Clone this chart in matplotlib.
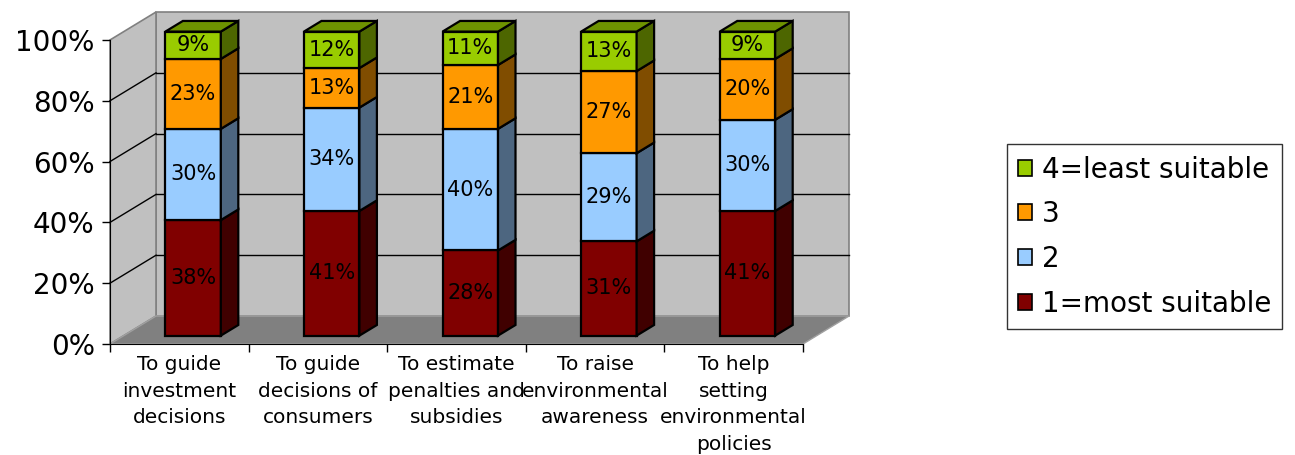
import matplotlib.pyplot as plt
import numpy as np
from matplotlib.patches import Polygon, Patch
from matplotlib.colors import to_rgb

categories = ['To guide\ninvestment\ndecisions', 'To guide\ndecisions of\nconsumers',
              'To estimate\npenalties and\nsubsidies', 'To raise\nenvironmental\nawareness',
              'To help\nsetting\nenvironmental\npolicies']
series_names = ['1=most suitable', '2', '3', '4=least suitable']
most_suitable = [38, 41, 28, 31, 41]
rank2 = [30, 34, 40, 29, 30]
rank3 = [23, 13, 21, 27, 20]
least_suitable = [9, 12, 11, 13, 9]
colors = ['#800000', '#99CCFF', '#FF9900', '#99CC00']

series = [most_suitable, rank2, rank3, least_suitable]
n = len(categories)

# oblique "3d" depth offsets, in data units
DX, DY = 0.332, 9.2
d0, d1 = 0.30, 0.68
bar_w = 0.40


def shade(c, f):
    r, g, b = to_rgb(c)
    return (r * f, g * f, b * f)


def poly(pts, **kw):
    return Polygon(pts, closed=True, clip_on=False, **kw)


fig = plt.figure(figsize=(12.95, 4.55), dpi=100)
ax = fig.add_axes([110 / 1295, 111 / 455, 739 / 1295, 332 / 455])
ax.set_xlim(0, n + DX)
ax.set_ylim(0, 100 + DY)
ax.patch.set_visible(False)

# walls and floor
wall = '#C0C0C0'
edge = '#808080'
ax.add_patch(poly([(DX, DY), (n + DX, DY), (n + DX, 100 + DY), (DX, 100 + DY)],
                  facecolor=wall, edgecolor=edge, lw=1.2, zorder=0))
ax.add_patch(poly([(0, 0), (DX, DY), (DX, 100 + DY), (0, 100)],
                  facecolor=wall, edgecolor=edge, lw=1.2, zorder=0))
for v in range(20, 100, 20):
    ax.plot([DX, n + DX], [v + DY, v + DY], color='black', lw=1.0, zorder=1, clip_on=False)
    ax.plot([0, DX], [v, v + DY], color='black', lw=1.0, zorder=1, clip_on=False)
ax.add_patch(poly([(0, 0), (n, 0), (n + DX, DY), (DX, DY)],
                  facecolor='#808080', edgecolor='#A0A0A0', lw=1.0, zorder=2))

# stacked bars
for i in range(n):
    x0 = i + 0.5 - bar_w / 2 + d0 * DX
    x1 = x0 + bar_w
    base = 0
    for k, vals in enumerate(series):
        v = vals[i]
        y0 = base + d0 * DY
        y1 = base + v + d0 * DY
        ddx, ddy = (d1 - d0) * DX, (d1 - d0) * DY
        ax.add_patch(poly([(x0, y0), (x1, y0), (x1, y1), (x0, y1)],
                          facecolor=colors[k], edgecolor='black', lw=1.6, zorder=5))
        ax.add_patch(poly([(x1, y0), (x1 + ddx, y0 + ddy), (x1 + ddx, y1 + ddy), (x1, y1)],
                          facecolor=shade(colors[k], 0.5), edgecolor='black', lw=1.6, zorder=5))
        if k == len(series) - 1:
            ax.add_patch(poly([(x0, y1), (x1, y1), (x1 + ddx, y1 + ddy), (x0 + ddx, y1 + ddy)],
                              facecolor=shade(colors[k], 0.72), edgecolor='black', lw=1.6, zorder=5))
        ax.text((x0 + x1) / 2, (y0 + y1) / 2, f'{v}%', ha='center', va='center',
                fontsize=15, color='black', zorder=6)
        base += v

# axes styling
for s in ['top', 'right']:
    ax.spines[s].set_visible(False)
ax.spines['left'].set_bounds(0, 100)
ax.spines['bottom'].set_bounds(0, n)
ax.spines['left'].set_zorder(3)
ax.spines['bottom'].set_zorder(3)
ax.set_yticks(np.arange(0, 101, 20))
ax.set_yticklabels([f'{v}%' for v in range(0, 101, 20)], fontsize=20)
ax.tick_params(axis='y', length=6, width=1, pad=5)
ax.set_xticks(np.arange(0, n + 1))
ax.set_xticklabels([])
ax.set_xticks(np.arange(n) + 0.5, minor=True)
ax.set_xticklabels(categories, minor=True, fontsize=14.5, linespacing=1.5)
ax.tick_params(axis='x', which='major', length=6, width=1)
ax.tick_params(axis='x', which='minor', length=0, pad=8)

handles = [Patch(facecolor=colors[k], edgecolor='black', lw=1.2) for k in range(len(series))][::-1]
leg = fig.legend(handles, series_names[::-1], loc='center left',
                 bbox_to_anchor=(1007 / 1295, 1 - 236.5 / 455), fontsize=20,
                 handlelength=0.5, handleheight=0.5, handletextpad=0.35,
                 labelspacing=0.6, borderpad=0.4, frameon=True, fancybox=False,
                 edgecolor='black', borderaxespad=0)
leg.get_frame().set_linewidth(1.0)

plt.savefig('out.png', dpi=100)
